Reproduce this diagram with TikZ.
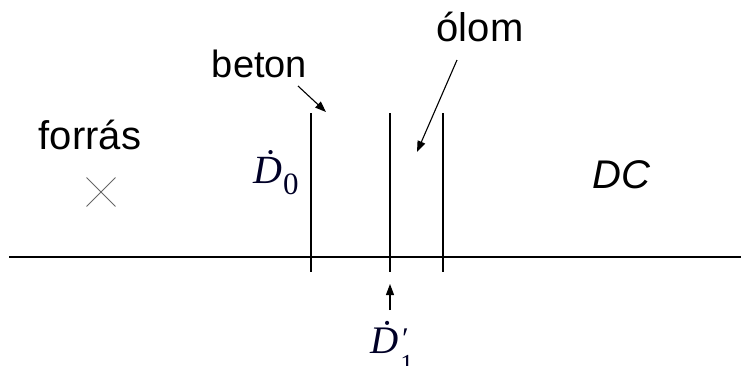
\documentclass[tikz,border=0pt]{standalone}
\usepackage{fontspec}
\setmainfont{Liberation Sans}
\newfontfamily\tmsfont{Liberation Serif}
\usetikzlibrary{arrows.meta,shapes.misc}
\tikzset{
  wall/.style={line width=1.1pt, black},
  lbl/.style={inner sep=0pt, anchor=base, font=\fontsize{40}{40}\selectfont},
  pointer/.style={line width=1.1pt, -{Triangle[length=11pt,width=8pt]}},
  mathlbl/.style={inner sep=0pt, anchor=base west, text=black!85!blue}
}
\newcommand{\subsc}[2]{{\fontsize{#1}{#1}\selectfont\upshape #2}}
\begin{document}
\begin{tikzpicture}[x=1pt,y=-1pt]
\useasboundingbox (0,0) rectangle (741,365);
% axis
\coordinate (axL) at (9,257);
\coordinate (axR) at (741,257);
\draw[wall] (axL) -- (axR);
% walls
\coordinate (w1t) at (311,113); \coordinate (w1b) at (311,272);
\coordinate (w2t) at (390,113); \coordinate (w2b) at (390,272);
\coordinate (w3t) at (443,113); \coordinate (w3b) at (443,272);
\draw[wall] (w1t) -- (w1b);
\draw[wall] (w2t) -- (w2b);
\draw[wall] (w3t) -- (w3b);
% labels
\node[lbl] (forras) at (90,149) {forrás};
\node[lbl, font=\fontsize{38}{38}\selectfont] (beton) at (259.5,77) {beton};
\node[lbl] (olom) at (480,41) {ólom};
\node[lbl, font=\fontsize{40}{40}\selectfont\itshape] (dc) at (621.5,188) {DC};
\node[mathlbl, font=\tmsfont\fontsize{40}{40}\selectfont\itshape] (d0) at (253,183)
  {\.{D}\kern1pt\raisebox{-11pt}{\subsc{31}{0}}};
\node[mathlbl, font=\tmsfont\fontsize{39}{39}\selectfont\itshape] (d1) at (370,353)
  {\.{D}\kern2pt\rlap{\raisebox{5pt}{\subsc{30}{\itshape ′}}}\raisebox{-19pt}{\subsc{26}{1}}};
% source cross
\node[draw=gray!80!black, line width=0.9pt, cross out, minimum size=28pt, inner sep=0pt] (src) at (101,192) {};
% pointers
\coordinate (bs) at (298,86); \coordinate (be) at (326,112);
\coordinate (os) at (457,60); \coordinate (oe) at (417,152);
\coordinate (us) at (390,310); \coordinate (ue) at (390,284);
\draw[pointer] (bs) -- (be);
\draw[pointer] (os) -- (oe);
\draw[pointer] (us) -- (ue);
\end{tikzpicture}
\end{document}
